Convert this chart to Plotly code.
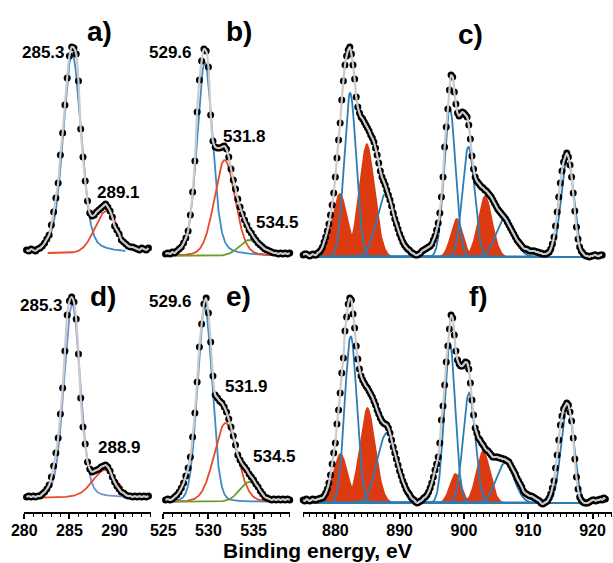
import numpy as np
import plotly.graph_objects as go

FONT = "Liberation Sans, Arial, sans-serif"
W, H = 613, 563

# ---------------- measured spectra (intensity, a.u.) on uniform grids ----------------
C1S_E0, O1S_E0, CE3D_E0 = 280.25, 525.25, 875.0
STEP = 0.25

C1S_TOP = [3, 2, 4, 3, 2, 4, 5, 7, 10, 14,
           18, 28, 41, 55, 70, 98, 120, 148, 175, 197,
           206, 205, 199, 172, 124, 96, 72, 52, 40, 37,
           38, 41, 43, 45, 47, 49, 46, 42, 36, 27,
           23, 19, 13, 11, 9, 7, 6, 6, 5, 4,
           3, 5, 4, 3, 5]
C1S_BOT = [1, 2, 1, 2, 1, 2, 2, 4, 6, 9,
           13, 21, 32, 45, 60, 84, 110, 147, 183, 197,
           201, 196, 179, 144, 100, 71, 54, 36, 29, 26,
           27, 28, 29, 31, 32, 33, 31, 27, 21, 16,
           12, 9, 6, 5, 3, 2, 2, 1, 2, 1,
           2, 1, 2, 1, 2]
O1S_TOP = [2, 3, 2, 4, 3, 5, 7, 9, 13, 18,
           25, 41, 64, 95, 144, 176, 195, 207, 205, 189,
           141, 115, 109, 108, 108, 109, 110, 107, 99, 87,
           76, 67, 57, 49, 42, 36, 31, 26, 23, 19,
           16, 13, 11, 9, 7, 6, 5, 4, 3, 3,
           2, 3, 2, 3, 2, 3]
O1S_BOT = [2, 3, 2, 3, 5, 7, 10, 14, 19, 26,
           34, 45, 65, 89, 120, 155, 178, 198, 204, 189,
           160, 126, 107, 104, 101, 99, 95, 90, 83, 75,
           66, 57, 47, 42, 38, 35, 32, 28, 25, 22,
           18, 15, 11, 8, 5, 4, 3, 2, 3, 2,
           3, 2, 3, 2, 3, 2]
CE3D_TOP = [2, 3, 3, 2, 1, 2, 3, 2, 2, 4, 5, 7, 10, 15, 20, 26,
            33, 42, 52, 64, 80, 99, 117, 134, 157, 176, 192, 201,
            207, 210, 203, 192, 178, 160, 150, 144, 140, 138, 135, 132,
            129, 126, 122, 119, 115, 109, 102, 94, 86, 80, 76, 72,
            67, 62, 57, 51, 44, 38, 33, 28, 23, 19, 15, 12,
            10, 8, 7, 5, 4, 3, 2, 2, 3, 4, 6, 7,
            8, 9, 10, 11, 13, 17, 21, 27, 34, 44, 60, 80,
            110, 130, 148, 167, 182, 180, 165, 153, 144, 141, 143, 145,
            144, 142, 140, 132, 118, 101, 88, 80, 76, 74, 72, 70,
            69, 67, 66, 64, 62, 60, 57, 54, 51, 48, 46, 44,
            42, 40, 38, 35, 32, 29, 26, 23, 20, 17, 15, 13,
            11, 9, 8, 8, 7, 6, 6, 6, 6, 5, 5, 4,
            4, 3, 3, 3, 4, 5, 8, 13, 20, 31, 45, 60,
            74, 86, 95, 100, 104, 100, 92, 80, 64, 46, 30, 18,
            10, 6, 4, 2, 1, 1, 0, 1, 1, 2, 2, 1,
            1, 2, 2]
CE3D_BOT = [3, 2, 4, 3, 2, 3, 4, 3, 3, 4, 4, 5, 5, 7, 10, 14,
            20, 28, 39, 50, 60, 79, 93, 110, 130, 145, 172, 186,
            199, 205, 203, 189, 175, 157, 144, 134, 127, 123, 120, 117,
            115, 112, 109, 106, 102, 98, 93, 89, 85, 82, 80, 79,
            78, 75, 70, 63, 56, 50, 44, 38, 32, 27, 22, 18,
            14, 11, 9, 6, 4, 3, 1, 0, 1, 2, 3, 5,
            6, 8, 11, 15, 20, 26, 33, 39, 46, 60, 83, 97,
            118, 141, 157, 174, 188, 185, 168, 152, 143, 139, 137, 137,
            139, 141, 140, 134, 120, 103, 88, 75, 70, 65, 63, 60,
            58, 55, 53, 52, 50, 48, 46, 46, 46, 46, 45, 45,
            44, 44, 43, 42, 41, 38, 35, 32, 29, 25, 22, 19,
            16, 12, 10, 9, 8, 7, 7, 6, 5, 4, 3, 2,
            0, -1, 0, 1, 2, 5, 9, 15, 22, 35, 48, 63,
            78, 87, 94, 97, 100, 98, 91, 82, 65, 44, 26, 14,
            6, 3, 1, 0, 0, 0, 1, 2, 3, 3, 2, 3,
            3, 4, 3, 5, 4]

# ---------------- fitted components ----------------
# centre (eV), height (a.u.), FWHM (eV), Lorentzian fraction
C1S_TOP_CENTER = [285.3, 289.1]
C1S_TOP_HEIGHT = [200, 42]
C1S_TOP_FWHM = [2.3, 3.0]
C1S_TOP_ETA = [0.3, 0.0]

C1S_BOT_CENTER = [285.3, 288.9]
C1S_BOT_HEIGHT = [194, 28]
C1S_BOT_FWHM = [2.1, 3.2]
C1S_BOT_ETA = [0.2, 0.3]

O1S_TOP_CENTER = [529.6, 531.8, 534.5]
O1S_TOP_HEIGHT = [194, 96, 16]
O1S_TOP_FWHM = [2.0, 2.7, 2.6]
O1S_TOP_ETA = [0.3, 0.15, 0.1]

O1S_BOT_CENTER = [529.6, 531.9, 534.5]
O1S_BOT_HEIGHT = [195, 79, 20]
O1S_BOT_FWHM = [1.9, 3.0, 2.5]
O1S_BOT_ETA = [0.1, 0.1, 0.1]

# Ce4+ (lines) and Ce3+ (filled) components
CE4_TOP_CENTER = [882.3, 888.0, 897.8, 900.7, 906.4, 916.1]
CE4_TOP_HEIGHT = [164, 65, 149, 110, 39, 100]
CE4_TOP_FWHM = [2.2, 3.5, 2.1, 2.2, 3.3, 2.3]
CE3_TOP_CENTER = [880.7, 884.9, 898.9, 903.3]
CE3_TOP_HEIGHT = [64, 114, 39, 62]
CE3_TOP_FWHM = [3.0, 3.0, 2.3, 2.7]

CE4_BOT_CENTER = [882.4, 888.0, 897.8, 900.8, 906.4, 916.1]
CE4_BOT_HEIGHT = [167, 70, 160, 110, 40, 98]
CE4_BOT_FWHM = [2.2, 3.5, 2.0, 2.2, 3.3, 2.3]
CE3_BOT_CENTER = [880.8, 885.0, 898.7, 903.0]
CE3_BOT_HEIGHT = [50, 96, 30, 53]
CE3_BOT_FWHM = [2.8, 3.0, 2.2, 2.6]

# ---------------- tick and label texts ----------------
C1S_TICKS = [280, 285, 290]
O1S_TICKS = [525, 530, 535]
CE3D_TICKS = [880, 890, 900, 910, 920]
PANEL_LETTERS = ["a)", "b)", "c)", "d)", "e)", "f)"]
PEAK_LABELS_TOP = ["285.3", "289.1", "529.6", "531.8", "534.5"]
PEAK_LABELS_BOT = ["285.3", "288.9", "529.6", "531.9", "534.5"]
X_TITLE = "Binding energy, eV"

# ---------------- styles ----------------
BLUE_AB = "#3b8bc8"
BLUE_D = "#7090d8"
RED_LINE = "#e84a2a"
GREEN = "#6e9a2c"
BLUE_CE = "#2d7db5"
RED_FILL = "#dc3b12"
ENVELOPE = "#cbcbcb"


def pseudo_voigt(x, c, h, w, eta):
    u = (x - c) / w
    return h * ((1 - eta) * np.exp(-4 * np.log(2) * u ** 2) + eta / (1 + 4 * u ** 2))


def grid(e0, counts):
    return e0 + STEP * np.arange(len(counts))


# panel geometry in pixels
X_PX = {"C": (24, 151), "O": (163, 290), "Ce": (303, 612)}
ROW_PX = {"top": (10, 262), "bot": (270, 512)}
X_RANGE = {"C": (280, 294), "O": (525, 539), "Ce": (875, 923)}
X_TICKS = {"C": C1S_TICKS, "O": O1S_TICKS, "Ce": CE3D_TICKS}

panels = [
    dict(kind="C", row="top", base=253, e0=C1S_E0, counts=C1S_TOP, fit=(282.6, 291.2),
         lines=list(zip(C1S_TOP_CENTER, C1S_TOP_HEIGHT, C1S_TOP_FWHM, C1S_TOP_ETA, [BLUE_AB, RED_LINE])),
         fills=[]),
    dict(kind="O", row="top", base=256, e0=O1S_E0, counts=O1S_TOP, fit=(525.15, 539.0),
         lines=list(zip(O1S_TOP_CENTER, O1S_TOP_HEIGHT, O1S_TOP_FWHM, O1S_TOP_ETA, [BLUE_AB, RED_LINE, GREEN])),
         fills=[]),
    dict(kind="Ce", row="top", base=257, e0=CE3D_E0, counts=CE3D_TOP, fit=(875.0, 919.0),
         lines=list(zip(CE4_TOP_CENTER, CE4_TOP_HEIGHT, CE4_TOP_FWHM, [0] * 6, [BLUE_CE] * 6)),
         fills=list(zip(CE3_TOP_CENTER, CE3_TOP_HEIGHT, CE3_TOP_FWHM))),
    dict(kind="C", row="bot", base=498, e0=C1S_E0, counts=C1S_BOT, fit=(281.8, 290.9),
         lines=list(zip(C1S_BOT_CENTER, C1S_BOT_HEIGHT, C1S_BOT_FWHM, C1S_BOT_ETA, [BLUE_D, RED_LINE])),
         fills=[]),
    dict(kind="O", row="bot", base=502, e0=O1S_E0, counts=O1S_BOT, fit=(525.15, 539.0),
         lines=list(zip(O1S_BOT_CENTER, O1S_BOT_HEIGHT, O1S_BOT_FWHM, O1S_BOT_ETA, [BLUE_AB, RED_LINE, GREEN])),
         fills=[]),
    dict(kind="Ce", row="bot", base=503, e0=CE3D_E0, counts=CE3D_BOT, fit=(875.0, 919.0),
         lines=list(zip(CE4_BOT_CENTER, CE4_BOT_HEIGHT, CE4_BOT_FWHM, [0] * 6, [BLUE_CE] * 6)),
         fills=list(zip(CE3_BOT_CENTER, CE3_BOT_HEIGHT, CE3_BOT_FWHM))),
]

fig = go.Figure()
layout_axes = {}

for k, p in enumerate(panels, start=1):
    xref = "x" if k == 1 else f"x{k}"
    yref = "y" if k == 1 else f"y{k}"
    xs = np.linspace(p["fit"][0], p["fit"][1], 700)

    for c, h, w in p["fills"]:
        fig.add_trace(go.Scatter(x=xs, y=pseudo_voigt(xs, c, h, w, 0.0), mode="lines",
                                 fill="tozeroy", fillcolor=RED_FILL, line=dict(width=0, color=RED_FILL),
                                 xaxis=xref, yaxis=yref, showlegend=False, hoverinfo="skip"))
    for c, h, w, eta, col in p["lines"]:
        fig.add_trace(go.Scatter(x=xs, y=pseudo_voigt(xs, c, h, w, eta), mode="lines",
                                 line=dict(color=col, width=1.8),
                                 xaxis=xref, yaxis=yref, showlegend=False, hoverinfo="skip"))

    ex = grid(p["e0"], p["counts"])
    fig.add_trace(go.Scatter(x=ex, y=p["counts"], mode="markers",
                             marker=dict(size=7, color="black", line=dict(width=0)),
                             xaxis=xref, yaxis=yref, showlegend=False, cliponaxis=False))
    fig.add_trace(go.Scatter(x=ex, y=p["counts"], mode="lines",
                             line=dict(color=ENVELOPE, width=2.2, shape="spline", smoothing=0.8),
                             xaxis=xref, yaxis=yref, showlegend=False, cliponaxis=False))

    x0, x1 = X_PX[p["kind"]]
    r0, r1 = ROW_PX[p["row"]]
    lo, hi = X_RANGE[p["kind"]]
    xa = dict(domain=[x0 / W, x1 / W], range=[lo - 0.03, hi + 0.03], anchor=yref,
              showgrid=False, zeroline=False)
    if p["row"] == "bot":
        xa.update(showline=True, linecolor="black", linewidth=2, ticks="outside", ticklen=5,
                  tickwidth=1.5, tickcolor="black", tickmode="array", tickvals=X_TICKS[p["kind"]],
                  ticktext=[str(t) for t in X_TICKS[p["kind"]]], ticklabelstandoff=-2,
                  tickfont=dict(family=FONT, size=16, color="black", weight="bold"),
                  minor=dict(dtick=1, tick0=lo, ticks="outside", ticklen=3, tickwidth=1,
                             tickcolor="black", showgrid=False))
    else:
        xa.update(visible=False)
    ya = dict(domain=[1 - r1 / H, 1 - r0 / H], range=[p["base"] - r1, p["base"] - r0],
              anchor=xref, visible=False)
    layout_axes["xaxis" if k == 1 else f"xaxis{k}"] = xa
    layout_axes["yaxis" if k == 1 else f"yaxis{k}"] = ya

# text positions (pixel centres)
LETTER_POS = [(99.5, 31), (239, 31), (470, 34), (103, 296), (238, 296), (478, 296)]
TOP_LABEL_POS = [(43, 52.5), (118.7, 192.5), (170, 52.5), (244.7, 136), (277, 222.5)]
BOT_LABEL_POS = [(41, 305.5), (119, 447.5), (170, 301), (246, 386), (274, 456)]

annotations = []
for txt, (px, py) in zip(PANEL_LETTERS, LETTER_POS):
    annotations.append(dict(text=f"<b>{txt}</b>", x=px / W, y=1 - py / H, xref="paper", yref="paper",
                            showarrow=False, xanchor="center", yanchor="middle",
                            font=dict(family=FONT, size=28, color="black")))
for txt, (px, py) in list(zip(PEAK_LABELS_TOP, TOP_LABEL_POS)) + list(zip(PEAK_LABELS_BOT, BOT_LABEL_POS)):
    annotations.append(dict(text=f"<b>{txt}</b>", x=px / W, y=1 - py / H, xref="paper", yref="paper",
                            showarrow=False, xanchor="center", yanchor="middle",
                            font=dict(family=FONT, size=17, color="black")))
annotations.append(dict(text=f"<b>{X_TITLE}</b>", x=317.5 / W, y=1 - 550 / H, xref="paper", yref="paper",
                        showarrow=False, xanchor="center", yanchor="middle", borderpad=0,
                        font=dict(family=FONT, size=21, color="black")))

fig.update_layout(width=W, height=H, margin=dict(l=0, r=0, t=0, b=0, autoexpand=False),
                  paper_bgcolor="white", plot_bgcolor="white",
                  annotations=annotations, **layout_axes)

fig.write_html("out.html")
